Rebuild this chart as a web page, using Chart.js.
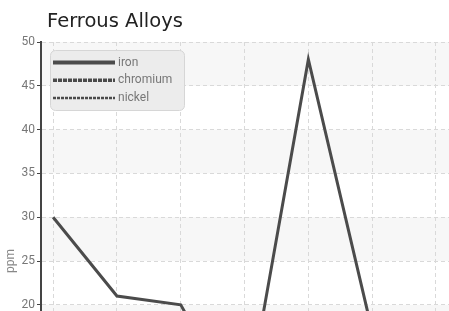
<!DOCTYPE html>
<html>
<head>
<meta charset="utf-8">
<title>Ferrous Alloys</title>
<script src="https://cdn.jsdelivr.net/npm/chart.js@4"></script>
<style>
  html, body { margin: 0; padding: 0; background: #fff; overflow: hidden; }
  #wrap { position: relative; width: 480px; height: 510px; }
</style>
</head>
<body>
<div id="wrap"><canvas id="alloyChart"></canvas></div>
<script>
const chartTitle = 'Ferrous Alloys';
const axisTitle = 'ppm';
const sampleIds = [1, 2, 3, 4, 5, 6, 7];
const seriesNames = ['iron', 'chromium', 'nickel'];
const ironPpm = [30, 21, 20, 7, 48, 17, 11];
const chromiumPpm = [14, 9, 16, 12, 5, 18, 8];
const nickelPpm = [4, 6, 3, 10, 8, 2, 5];
const yTicks = [0, 5, 10, 15, 20, 25, 30, 35, 40, 45, 50];

const toPoints = values => values.map((v, i) => ({ x: sampleIds[i], y: v }));

Chart.defaults.font.family = 'Roboto';
Chart.defaults.font.size = 12;

// light bands between every other y tick, under the grid
const bandsPlugin = {
    id: 'bands',
    beforeDraw(chart) {
        const { ctx, chartArea, scales: { y } } = chart;
        ctx.save();
        ctx.fillStyle = '#f7f7f7';
        for (let i = yTicks.length - 1; i > 0; i -= 2) {
            const top = y.getPixelForValue(yTicks[i]);
            const bottom = y.getPixelForValue(yTicks[i - 1]);
            ctx.fillRect(chartArea.left, top, chartArea.right - chartArea.left, bottom - top);
        }
        ctx.restore();
    }
};

// title at the top left and the legend box inside the plot
const titleAndLegend = {
    id: 'titleAndLegend',
    afterDraw(chart) {
        const ctx = chart.ctx;
        ctx.save();
        ctx.font = '19.5px "DejaVu Sans"';
        ctx.fillStyle = '#222';
        ctx.textBaseline = 'alphabetic';
        ctx.fillText(chartTitle, 47, 27);

        ctx.beginPath();
        ctx.roundRect(50.5, 50.5, 134, 60, 5);
        ctx.fillStyle = '#ececec';
        ctx.fill();
        ctx.strokeStyle = '#d6d6d6';
        ctx.lineWidth = 1;
        ctx.stroke();

        ctx.font = '12px Roboto';
        ctx.textBaseline = 'middle';
        chart.data.datasets.forEach((ds, i) => {
            const ly = 62.5 + i * 17.7;
            ctx.beginPath();
            ctx.setLineDash(ds.borderDash || []);
            ctx.lineWidth = ds.borderWidth + 1;
            ctx.strokeStyle = ds.borderColor;
            ctx.moveTo(53, ly);
            ctx.lineTo(115, ly);
            ctx.stroke();
            ctx.setLineDash([]);
            ctx.fillStyle = '#777';
            ctx.fillText(ds.label, 118, ly);
        });
        ctx.restore();
    }
};

new Chart(document.getElementById('alloyChart'), {
    type: 'line',
    data: {
        datasets: [
            {
                label: seriesNames[0],
                data: toPoints(ironPpm),
                borderColor: '#4b4b4b',
                borderWidth: 3,
                pointRadius: 0,
            },
            {
                label: seriesNames[1],
                data: toPoints(chromiumPpm),
                borderColor: '#4b4b4b',
                borderWidth: 2.5,
                borderDash: [4, 1],
                pointRadius: 0,
            },
            {
                label: seriesNames[2],
                data: toPoints(nickelPpm),
                borderColor: '#4b4b4b',
                borderWidth: 1.5,
                borderDash: [3, 1],
                pointRadius: 0,
            },
        ],
    },
    options: {
        responsive: true,
        maintainAspectRatio: false,
        animation: false,
        layout: { padding: { top: 42, left: 0, right: 0, bottom: 0 } },
        plugins: {
            legend: { display: false },
            title: { display: false },
            tooltip: { enabled: false },
        },
        scales: {
            x: {
                type: 'linear',
                min: 0.81,
                max: 7.69,
                afterFit: scale => { scale.height = 30; },
                ticks: { stepSize: 1, includeBounds: false, color: '#777' },
                grid: { color: '#d9d9d9', drawTicks: false },
                border: { display: false, dash: [4, 3] },
            },
            y: {
                min: yTicks[0],
                max: yTicks[yTicks.length - 1],
                afterFit: scale => { scale.width = 41; },
                ticks: { stepSize: 5, padding: 2, color: '#777' },
                grid: { color: '#d9d9d9', tickLength: 4, tickColor: '#444' },
                border: { display: true, color: '#444', width: 2, dash: [4, 3] },
                title: { display: true, text: axisTitle, color: '#888' },
            },
        },
    },
    plugins: [bandsPlugin, titleAndLegend],
});
</script>
</body>
</html>
